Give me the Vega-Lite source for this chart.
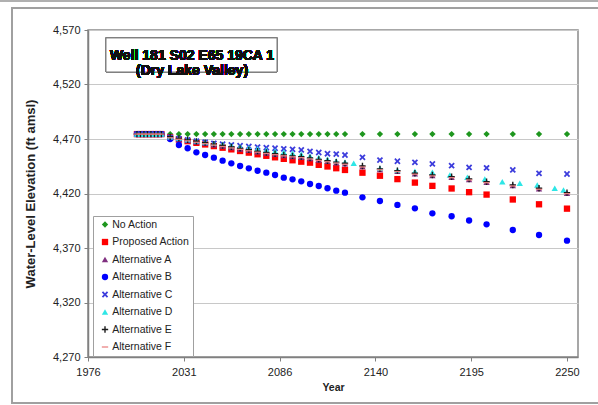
{
  "$schema": "https://vega.github.io/schema/vega-lite/v6.json",
  "width": 490,
  "height": 327,
  "autosize": {"type": "none"},
  "padding": {"left": 88, "top": 30, "right": 20, "bottom": 48},
  "background": "white",
  "config": {
    "font": "Liberation Sans",
    "view": {"stroke": "#8a8a8a", "strokeWidth": 1.5}
  },
  "data": {"values": [
    {"series":"No Action","year":2004,"level":4474.5},{"series":"No Action","year":2006,"level":4474.5},{"series":"No Action","year":2008,"level":4474.5},{"series":"No Action","year":2010,"level":4474.5},{"series":"No Action","year":2012,"level":4474.5},{"series":"No Action","year":2014,"level":4474.5},{"series":"No Action","year":2016,"level":4474.5},{"series":"No Action","year":2018,"level":4474.5},
    {"series":"No Action","year":2023,"level":4474.5},{"series":"No Action","year":2028,"level":4474.5},{"series":"No Action","year":2033,"level":4474.5},{"series":"No Action","year":2038,"level":4474.5},{"series":"No Action","year":2043,"level":4474.5},{"series":"No Action","year":2048,"level":4474.5},{"series":"No Action","year":2053,"level":4474.5},{"series":"No Action","year":2058,"level":4474.5},{"series":"No Action","year":2063,"level":4474.5},{"series":"No Action","year":2068,"level":4474.5},{"series":"No Action","year":2073,"level":4474.5},{"series":"No Action","year":2078,"level":4474.5},{"series":"No Action","year":2083,"level":4474.5},{"series":"No Action","year":2088,"level":4474.5},{"series":"No Action","year":2093,"level":4474.5},{"series":"No Action","year":2098,"level":4474.5},{"series":"No Action","year":2103,"level":4474.5},{"series":"No Action","year":2108,"level":4474.5},{"series":"No Action","year":2113,"level":4474.5},{"series":"No Action","year":2118,"level":4474.5},{"series":"No Action","year":2123,"level":4474.5},{"series":"No Action","year":2133,"level":4474.5},{"series":"No Action","year":2143,"level":4474.5},{"series":"No Action","year":2153,"level":4474.5},{"series":"No Action","year":2163,"level":4474.5},{"series":"No Action","year":2173,"level":4474.5},{"series":"No Action","year":2184,"level":4474.5},{"series":"No Action","year":2194,"level":4474.5},{"series":"No Action","year":2204,"level":4474.5},{"series":"No Action","year":2219,"level":4474.5},{"series":"No Action","year":2234,"level":4474.5},{"series":"No Action","year":2250,"level":4474.5},

    {"series":"Proposed Action","year":2004,"level":4474.5},{"series":"Proposed Action","year":2006,"level":4474.5},{"series":"Proposed Action","year":2008,"level":4474.5},{"series":"Proposed Action","year":2010,"level":4474.5},{"series":"Proposed Action","year":2012,"level":4474.5},{"series":"Proposed Action","year":2014,"level":4474.5},{"series":"Proposed Action","year":2016,"level":4474.5},{"series":"Proposed Action","year":2018,"level":4474.5},
    {"series":"Proposed Action","year":2023,"level":4471.5},{"series":"Proposed Action","year":2028,"level":4469.5},{"series":"Proposed Action","year":2033,"level":4468},{"series":"Proposed Action","year":2038,"level":4466.5},{"series":"Proposed Action","year":2043,"level":4465},{"series":"Proposed Action","year":2048,"level":4463.5},{"series":"Proposed Action","year":2053,"level":4462},{"series":"Proposed Action","year":2058,"level":4460.5},{"series":"Proposed Action","year":2063,"level":4459},{"series":"Proposed Action","year":2068,"level":4457.5},{"series":"Proposed Action","year":2073,"level":4456},{"series":"Proposed Action","year":2078,"level":4454.6},{"series":"Proposed Action","year":2083,"level":4453.2},{"series":"Proposed Action","year":2088,"level":4451.8},{"series":"Proposed Action","year":2093,"level":4450.5},{"series":"Proposed Action","year":2098,"level":4449.2},{"series":"Proposed Action","year":2103,"level":4448.3},{"series":"Proposed Action","year":2108,"level":4446.3},{"series":"Proposed Action","year":2113,"level":4444.8},{"series":"Proposed Action","year":2118,"level":4443.2},{"series":"Proposed Action","year":2123,"level":4441.6},{"series":"Proposed Action","year":2133,"level":4439.1},{"series":"Proposed Action","year":2143,"level":4436.3},{"series":"Proposed Action","year":2153,"level":4433.2},{"series":"Proposed Action","year":2163,"level":4430},{"series":"Proposed Action","year":2173,"level":4427},{"series":"Proposed Action","year":2184,"level":4424.6},{"series":"Proposed Action","year":2194,"level":4421.2},{"series":"Proposed Action","year":2204,"level":4419},{"series":"Proposed Action","year":2219,"level":4414.5},{"series":"Proposed Action","year":2234,"level":4410.1},{"series":"Proposed Action","year":2250,"level":4406.1},

    {"series":"Alternative A","year":2004,"level":4474.5},{"series":"Alternative A","year":2006,"level":4474.5},{"series":"Alternative A","year":2008,"level":4474.5},{"series":"Alternative A","year":2010,"level":4474.5},{"series":"Alternative A","year":2012,"level":4474.5},{"series":"Alternative A","year":2014,"level":4474.5},{"series":"Alternative A","year":2016,"level":4474.5},{"series":"Alternative A","year":2018,"level":4474.5},
    {"series":"Alternative A","year":2023,"level":4471.5},{"series":"Alternative A","year":2028,"level":4470.1},{"series":"Alternative A","year":2033,"level":4468.7},{"series":"Alternative A","year":2038,"level":4467.4},{"series":"Alternative A","year":2043,"level":4466.1},{"series":"Alternative A","year":2048,"level":4464.8},{"series":"Alternative A","year":2053,"level":4463.5},{"series":"Alternative A","year":2058,"level":4462.2},{"series":"Alternative A","year":2063,"level":4460.9},{"series":"Alternative A","year":2068,"level":4459.6},{"series":"Alternative A","year":2073,"level":4458.3},{"series":"Alternative A","year":2078,"level":4457.1},{"series":"Alternative A","year":2083,"level":4456},{"series":"Alternative A","year":2088,"level":4454.9},{"series":"Alternative A","year":2093,"level":4454},{"series":"Alternative A","year":2098,"level":4453.3},{"series":"Alternative A","year":2103,"level":4452.1},{"series":"Alternative A","year":2108,"level":4450.8},{"series":"Alternative A","year":2113,"level":4449.5},{"series":"Alternative A","year":2118,"level":4448.3},{"series":"Alternative A","year":2123,"level":4447.2},{"series":"Alternative A","year":2133,"level":4444.7},{"series":"Alternative A","year":2143,"level":4442.1},{"series":"Alternative A","year":2153,"level":4440.5},{"series":"Alternative A","year":2163,"level":4438.1},{"series":"Alternative A","year":2173,"level":4436.5},{"series":"Alternative A","year":2184,"level":4434.9},{"series":"Alternative A","year":2194,"level":4432.8},{"series":"Alternative A","year":2204,"level":4430.3},{"series":"Alternative A","year":2219,"level":4427.3},{"series":"Alternative A","year":2234,"level":4424.3},{"series":"Alternative A","year":2250,"level":4420.3},

    {"series":"Alternative B","year":2004,"level":4474.5},{"series":"Alternative B","year":2006,"level":4474.5},{"series":"Alternative B","year":2008,"level":4474.5},{"series":"Alternative B","year":2010,"level":4474.5},{"series":"Alternative B","year":2012,"level":4474.5},{"series":"Alternative B","year":2014,"level":4474.5},{"series":"Alternative B","year":2016,"level":4474.5},{"series":"Alternative B","year":2018,"level":4474.5},
    {"series":"Alternative B","year":2023,"level":4470},{"series":"Alternative B","year":2028,"level":4464.5},{"series":"Alternative B","year":2033,"level":4461.5},{"series":"Alternative B","year":2038,"level":4457.8},{"series":"Alternative B","year":2043,"level":4455.3},{"series":"Alternative B","year":2048,"level":4452.9},{"series":"Alternative B","year":2053,"level":4450.1},{"series":"Alternative B","year":2058,"level":4447.7},{"series":"Alternative B","year":2063,"level":4445.2},{"series":"Alternative B","year":2068,"level":4443.1},{"series":"Alternative B","year":2073,"level":4440.9},{"series":"Alternative B","year":2078,"level":4439.1},{"series":"Alternative B","year":2083,"level":4437},{"series":"Alternative B","year":2088,"level":4434.5},{"series":"Alternative B","year":2093,"level":4433},{"series":"Alternative B","year":2098,"level":4431.2},{"series":"Alternative B","year":2103,"level":4428.7},{"series":"Alternative B","year":2108,"level":4426.9},{"series":"Alternative B","year":2113,"level":4424.8},{"series":"Alternative B","year":2118,"level":4422.6},{"series":"Alternative B","year":2123,"level":4420.8},{"series":"Alternative B","year":2133,"level":4416.5},{"series":"Alternative B","year":2143,"level":4413.1},{"series":"Alternative B","year":2153,"level":4409.5},{"series":"Alternative B","year":2163,"level":4406.4},{"series":"Alternative B","year":2173,"level":4401.8},{"series":"Alternative B","year":2184,"level":4399.1},{"series":"Alternative B","year":2194,"level":4395.2},{"series":"Alternative B","year":2204,"level":4391.7},{"series":"Alternative B","year":2219,"level":4386.5},{"series":"Alternative B","year":2234,"level":4381.9},{"series":"Alternative B","year":2250,"level":4376.7},

    {"series":"Alternative C","year":2004,"level":4474.5},{"series":"Alternative C","year":2006,"level":4474.5},{"series":"Alternative C","year":2008,"level":4474.5},{"series":"Alternative C","year":2010,"level":4474.5},{"series":"Alternative C","year":2012,"level":4474.5},{"series":"Alternative C","year":2014,"level":4474.5},{"series":"Alternative C","year":2016,"level":4474.5},{"series":"Alternative C","year":2018,"level":4474.5},
    {"series":"Alternative C","year":2023,"level":4471.5},{"series":"Alternative C","year":2028,"level":4470.3},{"series":"Alternative C","year":2033,"level":4469.2},{"series":"Alternative C","year":2038,"level":4468.1},{"series":"Alternative C","year":2043,"level":4467},{"series":"Alternative C","year":2048,"level":4466},{"series":"Alternative C","year":2053,"level":4465.2},{"series":"Alternative C","year":2058,"level":4464.5},{"series":"Alternative C","year":2063,"level":4463.8},{"series":"Alternative C","year":2068,"level":4463.2},{"series":"Alternative C","year":2073,"level":4462.6},{"series":"Alternative C","year":2078,"level":4462},{"series":"Alternative C","year":2083,"level":4461.5},{"series":"Alternative C","year":2088,"level":4461},{"series":"Alternative C","year":2093,"level":4460.5},{"series":"Alternative C","year":2098,"level":4460},{"series":"Alternative C","year":2103,"level":4458.7},{"series":"Alternative C","year":2108,"level":4457.6},{"series":"Alternative C","year":2113,"level":4456.5},{"series":"Alternative C","year":2118,"level":4456.2},{"series":"Alternative C","year":2123,"level":4455.3},{"series":"Alternative C","year":2133,"level":4453.2},{"series":"Alternative C","year":2143,"level":4450.7},{"series":"Alternative C","year":2153,"level":4449.6},{"series":"Alternative C","year":2163,"level":4448.6},{"series":"Alternative C","year":2173,"level":4447.1},{"series":"Alternative C","year":2184,"level":4445.5},{"series":"Alternative C","year":2194,"level":4443.9},{"series":"Alternative C","year":2204,"level":4443.5},{"series":"Alternative C","year":2219,"level":4441.6},{"series":"Alternative C","year":2234,"level":4438.5},{"series":"Alternative C","year":2250,"level":4437.9},

    {"series":"Alternative D","year":2004,"level":4474.5},{"series":"Alternative D","year":2006,"level":4474.5},{"series":"Alternative D","year":2008,"level":4474.5},{"series":"Alternative D","year":2010,"level":4474.5},{"series":"Alternative D","year":2012,"level":4474.5},{"series":"Alternative D","year":2014,"level":4474.5},{"series":"Alternative D","year":2016,"level":4474.5},{"series":"Alternative D","year":2018,"level":4474.5},
    {"series":"Alternative D","year":2023,"level":4472},{"series":"Alternative D","year":2028,"level":4470.8},{"series":"Alternative D","year":2033,"level":4469.6},{"series":"Alternative D","year":2038,"level":4468.4},{"series":"Alternative D","year":2043,"level":4467.3},{"series":"Alternative D","year":2048,"level":4466.2},{"series":"Alternative D","year":2053,"level":4465.1},{"series":"Alternative D","year":2058,"level":4464},{"series":"Alternative D","year":2063,"level":4463},{"series":"Alternative D","year":2068,"level":4462},{"series":"Alternative D","year":2073,"level":4461},{"series":"Alternative D","year":2078,"level":4460},{"series":"Alternative D","year":2083,"level":4459},{"series":"Alternative D","year":2088,"level":4458},{"series":"Alternative D","year":2093,"level":4457},{"series":"Alternative D","year":2098,"level":4456},{"series":"Alternative D","year":2103,"level":4454.5},{"series":"Alternative D","year":2108,"level":4453},{"series":"Alternative D","year":2113,"level":4451.5},{"series":"Alternative D","year":2118,"level":4450},{"series":"Alternative D","year":2123,"level":4449},{"series":"Alternative D","year":2128,"level":4447.7},{"series":"Alternative D","year":2143,"level":4443.1},{"series":"Alternative D","year":2153,"level":4441.6},{"series":"Alternative D","year":2163,"level":4440.5},{"series":"Alternative D","year":2173,"level":4439.5},{"series":"Alternative D","year":2183,"level":4437},{"series":"Alternative D","year":2193,"level":4435},{"series":"Alternative D","year":2203,"level":4433.3},{"series":"Alternative D","year":2213,"level":4430.8},{"series":"Alternative D","year":2223,"level":4429.5},{"series":"Alternative D","year":2233,"level":4427.8},{"series":"Alternative D","year":2243,"level":4424.8},{"series":"Alternative D","year":2248,"level":4423.2},

    {"series":"Alternative E","year":2004,"level":4474.5},{"series":"Alternative E","year":2006,"level":4474.5},{"series":"Alternative E","year":2008,"level":4474.5},{"series":"Alternative E","year":2010,"level":4474.5},{"series":"Alternative E","year":2012,"level":4474.5},{"series":"Alternative E","year":2014,"level":4474.5},{"series":"Alternative E","year":2016,"level":4474.5},{"series":"Alternative E","year":2018,"level":4474.5},
    {"series":"Alternative E","year":2023,"level":4472},{"series":"Alternative E","year":2028,"level":4470.6},{"series":"Alternative E","year":2033,"level":4469.2},{"series":"Alternative E","year":2038,"level":4467.9},{"series":"Alternative E","year":2043,"level":4466.6},{"series":"Alternative E","year":2048,"level":4465.3},{"series":"Alternative E","year":2053,"level":4464},{"series":"Alternative E","year":2058,"level":4462.7},{"series":"Alternative E","year":2063,"level":4461.4},{"series":"Alternative E","year":2068,"level":4460.1},{"series":"Alternative E","year":2073,"level":4458.8},{"series":"Alternative E","year":2078,"level":4457.6},{"series":"Alternative E","year":2083,"level":4456.5},{"series":"Alternative E","year":2088,"level":4455.4},{"series":"Alternative E","year":2093,"level":4454.5},{"series":"Alternative E","year":2098,"level":4453.8},{"series":"Alternative E","year":2103,"level":4452.6},{"series":"Alternative E","year":2108,"level":4451.3},{"series":"Alternative E","year":2113,"level":4450},{"series":"Alternative E","year":2118,"level":4448.8},{"series":"Alternative E","year":2123,"level":4447.7},{"series":"Alternative E","year":2133,"level":4445.2},{"series":"Alternative E","year":2143,"level":4442.6},{"series":"Alternative E","year":2153,"level":4441},{"series":"Alternative E","year":2163,"level":4438.6},{"series":"Alternative E","year":2173,"level":4437},{"series":"Alternative E","year":2184,"level":4435.4},{"series":"Alternative E","year":2194,"level":4433.3},{"series":"Alternative E","year":2204,"level":4430.8},{"series":"Alternative E","year":2219,"level":4427.8},{"series":"Alternative E","year":2234,"level":4424.8},{"series":"Alternative E","year":2250,"level":4420.8},

    {"series":"Alternative F","year":2004,"level":4474.5},{"series":"Alternative F","year":2006,"level":4474.5},{"series":"Alternative F","year":2008,"level":4474.5},{"series":"Alternative F","year":2010,"level":4474.5},{"series":"Alternative F","year":2012,"level":4474.5},{"series":"Alternative F","year":2014,"level":4474.5},{"series":"Alternative F","year":2016,"level":4474.5},{"series":"Alternative F","year":2018,"level":4474.5},
    {"series":"Alternative F","year":2023,"level":4471.1},{"series":"Alternative F","year":2028,"level":4469.7},{"series":"Alternative F","year":2033,"level":4468.3},{"series":"Alternative F","year":2038,"level":4467},{"series":"Alternative F","year":2043,"level":4465.7},{"series":"Alternative F","year":2048,"level":4464.4},{"series":"Alternative F","year":2053,"level":4463.1},{"series":"Alternative F","year":2058,"level":4461.8},{"series":"Alternative F","year":2063,"level":4460.5},{"series":"Alternative F","year":2068,"level":4459.2},{"series":"Alternative F","year":2073,"level":4457.9},{"series":"Alternative F","year":2078,"level":4456.7},{"series":"Alternative F","year":2083,"level":4455.6},{"series":"Alternative F","year":2088,"level":4454.5},{"series":"Alternative F","year":2093,"level":4453.6},{"series":"Alternative F","year":2098,"level":4452.9},{"series":"Alternative F","year":2103,"level":4451.7},{"series":"Alternative F","year":2108,"level":4450.4},{"series":"Alternative F","year":2113,"level":4449.1},{"series":"Alternative F","year":2118,"level":4447.9},{"series":"Alternative F","year":2123,"level":4446.8},{"series":"Alternative F","year":2133,"level":4444.3},{"series":"Alternative F","year":2143,"level":4441.7},{"series":"Alternative F","year":2153,"level":4440.1},{"series":"Alternative F","year":2163,"level":4437.7},{"series":"Alternative F","year":2173,"level":4436.1},{"series":"Alternative F","year":2184,"level":4434.5},{"series":"Alternative F","year":2194,"level":4432.4},{"series":"Alternative F","year":2204,"level":4429.9},{"series":"Alternative F","year":2219,"level":4426.9},{"series":"Alternative F","year":2234,"level":4423.9},{"series":"Alternative F","year":2250,"level":4419.9}
  ]},
  "layer": [
    {
      "mark": {"type": "point", "filled": true, "size": 40, "opacity": 1},
      "encoding": {
        "x": {"field": "year", "type": "quantitative",
          "scale": {"domain": [1976, 2256.3], "nice": false, "zero": false},
          "axis": {"values": [1976, 2030.8, 2085.6, 2140.4, 2195.2, 2250], "format": "d", "title": "Year",
            "grid": false, "domainColor": "#808080", "domainWidth": 1.5, "tickColor": "#808080", "tickSize": 4,
            "labelFontSize": 11, "labelColor": "#222222", "labelPadding": 5, "labelFlush": false,
            "titleFontSize": 10.5, "titleFontWeight": "bold", "titleColor": "#222222", "titlePadding": 5}},
        "y": {"field": "level", "type": "quantitative",
          "scale": {"domain": [4270, 4570], "nice": false, "zero": false},
          "axis": {"values": [4270, 4320, 4370, 4420, 4470, 4520, 4570], "format": ",d", "title": "Water-Level Elevation (ft amsl)",
            "grid": true, "gridColor": "#c8c8c8", "domainColor": "#808080", "domainWidth": 1.5, "tickColor": "#808080", "tickSize": 4,
            "labelFontSize": 11, "labelColor": "#222222", "labelPadding": 4,
            "titleFontSize": 13, "titleFontWeight": "bold", "titleColor": "#222222", "titlePadding": 15}},
        "color": {"field": "series", "type": "nominal",
          "scale": {"domain": ["No Action", "Proposed Action", "Alternative A", "Alternative B", "Alternative C", "Alternative D", "Alternative E", "Alternative F"],
            "range": ["#1e961e", "#ff0000", "#803080", "#0000ff", "#3c3cdc", "#2ee6e6", "#1a1a1a", "#e98080"]},
          "legend": {"orient": "none", "legendX": 5, "legendY": 186, "title": null, "padding": 3.25,
            "strokeColor": "#a0a0a0", "fillColor": "white", "labelFontSize": 10.5, "labelColor": "#222222",
            "symbolSize": 40, "rowPadding": 6.5, "symbolOffset": 3.5, "labelOffset": 2, "symbolStrokeWidth": 0}},
        "shape": {"field": "series", "type": "nominal",
          "scale": {"domain": ["No Action", "Proposed Action", "Alternative A", "Alternative B", "Alternative C", "Alternative D", "Alternative E", "Alternative F"],
            "range": ["diamond", "square", "triangle-up", "circle",
              "M-1,-0.6L-0.6,-1L0,-0.4L0.6,-1L1,-0.6L0.4,0L1,0.6L0.6,1L0,0.4L-0.6,1L-1,0.6L-0.4,0Z",
              "triangle-up",
              "M-1,-0.22L-0.22,-0.22L-0.22,-1L0.22,-1L0.22,-0.22L1,-0.22L1,0.22L0.22,0.22L0.22,1L-0.22,1L-0.22,0.22L-1,0.22Z",
              "M-1,-0.2L1,-0.2L1,0.2L-1,0.2Z"]}}
      }
    },
    {
      "mark": {"type": "rect", "fill": "white", "fillOpacity": 0, "stroke": "#a0a0a0", "strokeWidth": 1.5},
      "encoding": {
        "x": {"datum": 1932.5, "type": "quantitative"},
        "x2": {"datum": 2290},
        "y": {"datum": 4590.2, "type": "quantitative"},
        "y2": {"datum": 4227.8}
      }
    },
    {
      "mark": {"type": "rule", "stroke": "#b0b0b0", "strokeWidth": 1.5},
      "encoding": {
        "x": {"datum": 1920, "type": "quantitative"},
        "x2": {"datum": 2300},
        "y": {"datum": 4597.1, "type": "quantitative"}
      }
    },
    {
      "mark": {"type": "rect", "fill": "white", "stroke": "#808080", "strokeWidth": 1},
      "encoding": {
        "x": {"datum": 1986.3, "type": "quantitative"},
        "x2": {"datum": 2084.1},
        "y": {"datum": 4562.7, "type": "quantitative"},
        "y2": {"datum": 4531.5}
      }
    },
    {
      "mark": {"type": "text", "text": ["Well 181 S02 E65 19CA 1", "(Dry Lake Valley)"], "fontSize": 14, "fontWeight": "bold",
        "lineHeight": 15, "align": "center", "baseline": "middle", "color": "#111111"},
      "encoding": {
        "x": {"datum": 2035.5, "type": "quantitative"},
        "y": {"datum": 4546.6, "type": "quantitative"}
      }
    }
  ]
}
